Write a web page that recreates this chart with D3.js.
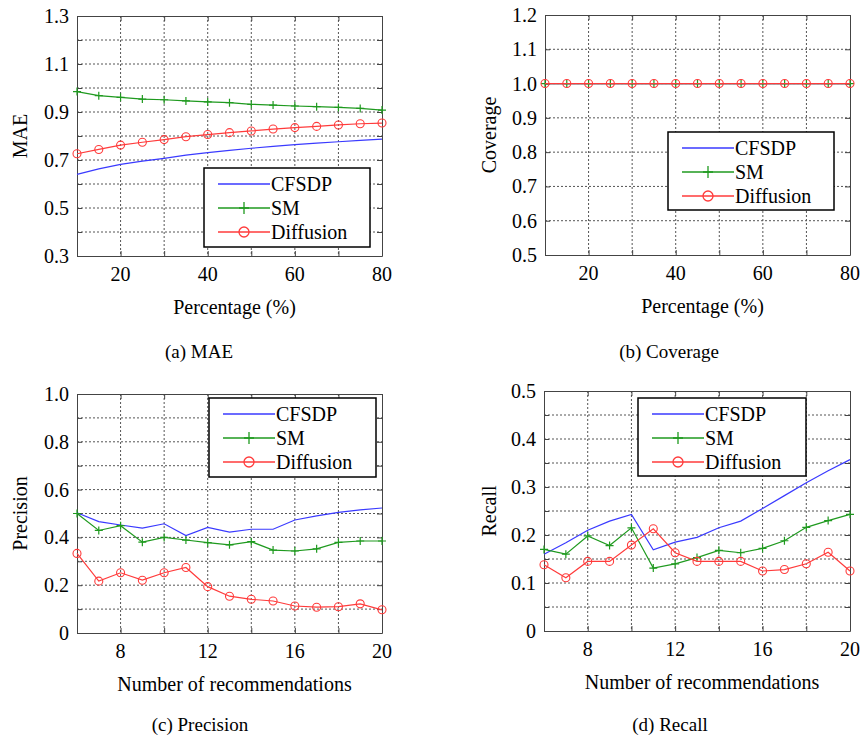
<!DOCTYPE html>
<html>
<head>
<meta charset="utf-8">
<script src="https://cdn.jsdelivr.net/npm/d3@7"></script>
<style>
  body { margin: 0; background: #fff; }
  svg text { font-family: 'Liberation Serif' !important; }
</style>
</head>
<body>
<div id="chart"></div>
<script>
// data
var pctX = [10, 15, 20, 25, 30, 35, 40, 45, 50, 55, 60, 65, 70, 75, 80];
var recX = [6, 7, 8, 9, 10, 11, 12, 13, 14, 15, 16, 17, 18, 19, 20];

var maeCFSDP = [0.640, 0.663, 0.682, 0.695, 0.707, 0.720, 0.731, 0.740, 0.749, 0.757, 0.764, 0.770, 0.776, 0.782, 0.787];
var maeSM = [0.985, 0.968, 0.961, 0.954, 0.951, 0.946, 0.942, 0.939, 0.932, 0.929, 0.925, 0.922, 0.919, 0.915, 0.908];
var maeDiff = [0.726, 0.744, 0.762, 0.774, 0.785, 0.797, 0.806, 0.814, 0.821, 0.829, 0.835, 0.840, 0.846, 0.851, 0.854];

var covCFSDP = [1, 1, 1, 1, 1, 1, 1, 1, 1, 1, 1, 1, 1, 1, 1];
var covSM = [1, 1, 1, 1, 1, 1, 1, 1, 1, 1, 1, 1, 1, 1, 1];
var covDiff = [1, 1, 1, 1, 1, 1, 1, 1, 1, 1, 1, 1, 1, 1, 1];

var preCFSDP = [0.503, 0.466, 0.452, 0.439, 0.457, 0.408, 0.442, 0.422, 0.434, 0.434, 0.473, 0.490, 0.505, 0.515, 0.523];
var preSM = [0.500, 0.429, 0.449, 0.380, 0.400, 0.389, 0.378, 0.369, 0.382, 0.347, 0.343, 0.352, 0.379, 0.385, 0.385];
var preDiff = [0.333, 0.217, 0.252, 0.221, 0.252, 0.274, 0.194, 0.154, 0.141, 0.134, 0.113, 0.108, 0.110, 0.122, 0.097];

var recCFSDP = [0.160, 0.184, 0.210, 0.229, 0.243, 0.169, 0.185, 0.195, 0.215, 0.229, 0.255, 0.282, 0.309, 0.334, 0.357];
var recSM = [0.170, 0.160, 0.198, 0.178, 0.215, 0.131, 0.140, 0.153, 0.168, 0.163, 0.172, 0.188, 0.216, 0.230, 0.243];
var recDiff = [0.138, 0.111, 0.145, 0.145, 0.179, 0.213, 0.163, 0.145, 0.145, 0.145, 0.125, 0.128, 0.140, 0.164, 0.125];

var seriesNames = ["CFSDP", "SM", "Diffusion"];
var colors = ["#3a3aff", "#1f9a1f", "#ff3b3b"];

var svg = d3.select("#chart").append("svg")
    .attr("width", 862)
    .attr("height", 738)
    .attr("font-family", "Liberation Serif");

// helper for plain text
function label(g, x, y, txt, anchor, size) {
  return g.append("text")
    .attr("x", x).attr("y", y)
    .attr("text-anchor", anchor)
    .attr("font-family", "Liberation Serif")
    .attr("font-size", size)
    .attr("fill", "#000")
    .text(String(txt));
}

// one subplot
function drawPanel(p) {
  var g = svg.append("g");
  var x = d3.scaleLinear().domain(p.xDomain).range([p.left, p.right]);
  var y = d3.scaleLinear().domain(p.yDomain).range([p.bottom, p.top]);

  // dotted grid
  p.xGrid.forEach(function (v) {
    g.append("line")
      .attr("x1", x(v)).attr("x2", x(v))
      .attr("y1", p.top).attr("y2", p.bottom)
      .attr("stroke", "#555").attr("stroke-width", 1)
      .attr("stroke-dasharray", "2,2");
  });
  p.yGrid.forEach(function (v) {
    g.append("line")
      .attr("x1", p.left).attr("x2", p.right)
      .attr("y1", y(v)).attr("y2", y(v))
      .attr("stroke", "#555").attr("stroke-width", 1)
      .attr("stroke-dasharray", "2,2");
  });

  // axes with inward ticks on all sides
  var ticksX = p.xGrid.concat(p.xDomain);
  var ticksY = p.yGrid.concat(p.yDomain);
  g.append("g").attr("transform", "translate(0," + p.bottom + ")")
    .call(d3.axisBottom(x).tickValues(ticksX).tickSizeInner(-5).tickSizeOuter(0).tickFormat(""));
  g.append("g").attr("transform", "translate(0," + p.top + ")")
    .call(d3.axisTop(x).tickValues(ticksX).tickSizeInner(-5).tickSizeOuter(0).tickFormat(""));
  g.append("g").attr("transform", "translate(" + p.left + ",0)")
    .call(d3.axisLeft(y).tickValues(ticksY).tickSizeInner(-5).tickSizeOuter(0).tickFormat(""));
  g.append("g").attr("transform", "translate(" + p.right + ",0)")
    .call(d3.axisRight(y).tickValues(ticksY).tickSizeInner(-5).tickSizeOuter(0).tickFormat(""));
  g.selectAll(".domain").attr("stroke", "#444");
  g.selectAll(".tick line").attr("stroke", "#444");
  g.selectAll(".tick text").remove();

  // tick labels
  p.xLabels.forEach(function (v) {
    label(g, x(v), p.bottom + 25, v, "middle", 20);
  });
  p.yLabels.forEach(function (v) {
    label(g, p.left - 8, y(v) + 7, v === 0 ? "0" : d3.format(".1f")(v), "end", 20);
  });

  // axis titles
  label(g, 0, 0, p.yTitle, "middle", 20)
    .attr("transform", "translate(" + p.yTitleX + "," + ((p.top + p.bottom) / 2) + ") rotate(-90)");
  label(g, (p.left + p.right) / 2 + 5, p.bottom + 58, p.xTitle, "middle", 20);
  label(g, p.capX, p.capY, p.caption, "middle", 19);

  // lines and markers
  var plot = g.append("g");
  p.series.forEach(function (vals, i) {
    var pts = p.xs.map(function (xv, j) { return [xv, vals[j]]; });
    var line = d3.line()
      .x(function (d) { return x(d[0]); })
      .y(function (d) { return y(d[1]); });
    plot.append("path")
      .attr("fill", "none")
      .attr("stroke", colors[i])
      .attr("stroke-width", 1.2)
      .attr("d", line(pts));
    if (i === 1) {
      plot.selectAll(".plus" + i).data(pts).enter().append("path")
        .attr("d", function (d) {
          var cx = x(d[0]), cy = y(d[1]);
          return "M" + (cx - 4) + "," + cy + "H" + (cx + 4) + "M" + cx + "," + (cy - 4) + "V" + (cy + 4);
        })
        .attr("stroke", colors[i]).attr("stroke-width", 1.2);
    }
    if (i === 2) {
      plot.selectAll(".circ" + i).data(pts).enter().append("circle")
        .attr("cx", function (d) { return x(d[0]); })
        .attr("cy", function (d) { return y(d[1]); })
        .attr("r", 4)
        .attr("fill", "none")
        .attr("stroke", colors[i]).attr("stroke-width", 1.1);
    }
  });

  // legend
  var L = p.legend;
  g.append("rect")
    .attr("x", L.x).attr("y", L.y).attr("width", L.w).attr("height", L.h)
    .attr("fill", "#fff").attr("stroke", "#000").attr("stroke-width", 1.5);
  seriesNames.forEach(function (name, i) {
    var ly = L.y + 16 + i * 24;
    var lx1 = L.x + 14, lx2 = L.x + 66, mid = (lx1 + lx2) / 2;
    g.append("line")
      .attr("x1", lx1).attr("x2", lx2).attr("y1", ly).attr("y2", ly)
      .attr("stroke", colors[i]).attr("stroke-width", 1.3);
    if (i === 1) {
      g.append("path")
        .attr("d", "M" + (mid - 5) + "," + ly + "H" + (mid + 5) + "M" + mid + "," + (ly - 6) + "V" + (ly + 6))
        .attr("stroke", colors[i]).attr("stroke-width", 1.3);
    }
    if (i === 2) {
      g.append("circle").attr("cx", mid).attr("cy", ly).attr("r", 5)
        .attr("fill", "none").attr("stroke", colors[i]).attr("stroke-width", 1.3);
    }
    label(g, lx2 + 1, ly + 7, name, "start", 20);
  });
}

drawPanel({
  left: 77, right: 382, top: 16, bottom: 256,
  xDomain: [10, 80], yDomain: [0.3, 1.3],
  xGrid: [20, 30, 40, 50, 60, 70], yGrid: [0.4, 0.5, 0.6, 0.7, 0.8, 0.9, 1.0, 1.1, 1.2],
  xLabels: [20, 40, 60, 80], yLabels: [0.3, 0.5, 0.7, 0.9, 1.1, 1.3],
  xs: pctX, series: [maeCFSDP, maeSM, maeDiff],
  yTitle: "MAE", yTitleX: 27, xTitle: "Percentage (%)",
  caption: "(a) MAE", capX: 199, capY: 358,
  legend: { x: 204, y: 168, w: 166, h: 79 }
});

drawPanel({
  left: 545, right: 850, top: 15, bottom: 255,
  xDomain: [10, 80], yDomain: [0.5, 1.2],
  xGrid: [20, 30, 40, 50, 60, 70], yGrid: [0.6, 0.7, 0.8, 0.9, 1.0, 1.1],
  xLabels: [20, 40, 60, 80], yLabels: [0.5, 0.6, 0.7, 0.8, 0.9, 1.0, 1.1, 1.2],
  xs: pctX, series: [covCFSDP, covSM, covDiff],
  yTitle: "Coverage", yTitleX: 496, xTitle: "Percentage (%)",
  caption: "(b) Coverage", capX: 669, capY: 358,
  legend: { x: 668, y: 132, w: 166, h: 78 }
});

drawPanel({
  left: 77, right: 382, top: 394, bottom: 633,
  xDomain: [6, 20], yDomain: [0, 1.0],
  xGrid: [8, 10, 12, 14, 16, 18], yGrid: [0.1, 0.2, 0.3, 0.4, 0.5, 0.6, 0.7, 0.8, 0.9],
  xLabels: [8, 12, 16, 20], yLabels: [0, 0.2, 0.4, 0.6, 0.8, 1.0],
  xs: recX, series: [preCFSDP, preSM, preDiff],
  yTitle: "Precision", yTitleX: 27, xTitle: "Number of recommendations",
  caption: "(c) Precision", capX: 200, capY: 731,
  legend: { x: 209, y: 398, w: 167, h: 79 }
});

drawPanel({
  left: 544, right: 850, top: 391, bottom: 631,
  xDomain: [6, 20], yDomain: [0, 0.5],
  xGrid: [8, 10, 12, 14, 16, 18], yGrid: [0.05, 0.1, 0.15, 0.2, 0.25, 0.3, 0.35, 0.4, 0.45],
  xLabels: [8, 12, 16, 20], yLabels: [0, 0.1, 0.2, 0.3, 0.4, 0.5],
  xs: recX, series: [recCFSDP, recSM, recDiff],
  yTitle: "Recall", yTitleX: 496, xTitle: "Number of recommendations",
  caption: "(d) Recall", capX: 670, capY: 731,
  legend: { x: 638, y: 398, w: 168, h: 78 }
});
</script>
</body>
</html>
